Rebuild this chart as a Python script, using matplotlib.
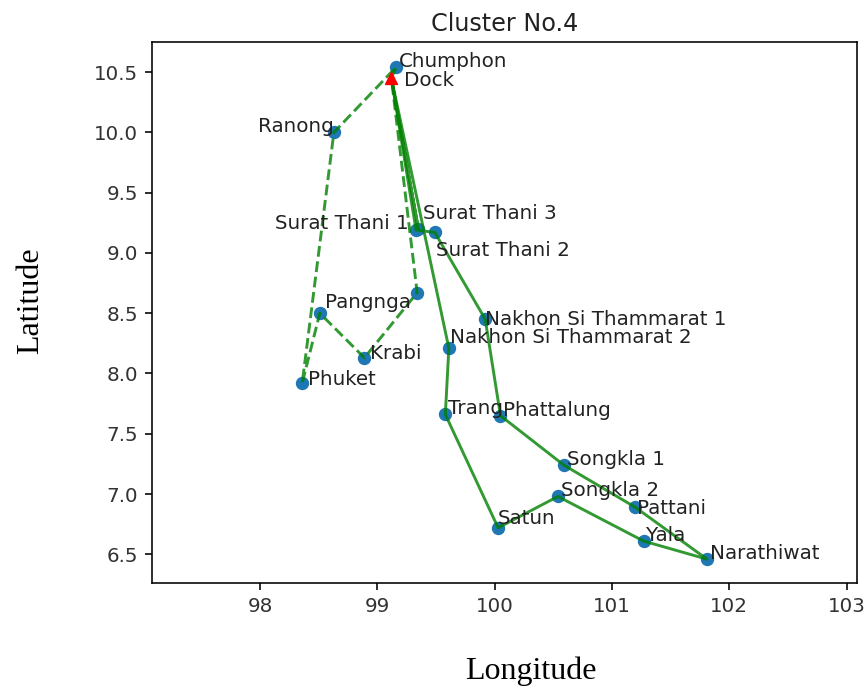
import matplotlib
matplotlib.use("Agg")
import matplotlib.pyplot as plt

# station coordinates (longitude, latitude)
names = ["Chumphon", "Dock", "Ranong", "Surat Thani 1", "Surat Thani 3", "Surat Thani 2",
         "", "Pangnga", "Krabi", "Phuket", "Nakhon Si Thammarat 1", "Nakhon Si Thammarat 2",
         "Trang", "Phattalung", "Songkla 1", "Songkla 2", "Pattani", "Yala", "Narathiwat", "Satun"]
lons = [99.16, 99.12, 98.63, 99.33, 99.35, 99.49,
        99.34, 98.51, 98.89, 98.36, 99.92, 99.61,
        99.58, 100.05, 100.59, 100.54, 101.20, 101.27, 101.81, 100.03]
lats = [10.54, 10.45, 10.00, 9.19, 9.20, 9.17,
        8.67, 8.50, 8.13, 7.92, 8.45, 8.21,
        7.66, 7.65, 7.24, 6.98, 6.89, 6.61, 6.46, 6.72]

# vehicle routes, as station names
route_dashed = ["Dock", "Chumphon", "Ranong", "Phuket", "Pangnga", "Krabi", "", "Dock"]
route_solid_1 = ["Dock", "Surat Thani 1", "Surat Thani 2", "Nakhon Si Thammarat 1", "Phattalung",
                 "Songkla 1", "Pattani", "Narathiwat", "Yala", "Songkla 2", "Satun", "Trang",
                 "Nakhon Si Thammarat 2", "Dock"]
route_solid_2 = ["Dock", "Surat Thani 3", "Dock"]

# label offsets in points (dx, dy, ha)
label_pos = {
    "Dock": (9, -6, "left"),
    "Ranong": (0, 0, "right"),
    "Surat Thani 1": (-5, 1, "right"),
    "Surat Thani 3": (3, 7, "left"),
    "Surat Thani 2": (1, -17, "left"),
    "Pangnga": (4, 4, "left"),
    "Krabi": (4, -1, "left"),
    "Phuket": (4, -1, "left"),
    "Nakhon Si Thammarat 1": (0, -4, "left"),
    "Nakhon Si Thammarat 2": (1, 4, "left"),
    "Pattani": (1, -5, "left"),
    "Satun": (0, 3, "left"),
}

idx = {n: i for i, n in enumerate(names)}


def route_xy(route):
    return [lons[idx[n]] for n in route], [lats[idx[n]] for n in route]


fig = plt.figure(figsize=(8.64, 6.87), dpi=100)
ax = fig.add_axes([0.176, 0.151, 0.816, 0.788])

stations = [i for i, n in enumerate(names) if n != "Dock"]
ax.scatter([lons[i] for i in stations], [lats[i] for i in stations], s=74, color="C0")
d = idx["Dock"]
ax.scatter([lons[d]], [lats[d]], marker="^", s=74, color="red", zorder=3)

for r, ls in [(route_dashed, "--"), (route_solid_1, "-"), (route_solid_2, "-")]:
    x, y = route_xy(r)
    ax.plot(x, y, ls, color="green", alpha=0.8, lw=2.1)

for i, n in enumerate(names):
    if not n:
        continue
    dx, dy, ha = label_pos.get(n, (2, 0, "left"))
    ax.annotate(n, (lons[i], lats[i]), xytext=(dx, dy), textcoords="offset points",
                ha=ha, va="baseline", fontsize=14.3, color="#222222")

ax.set_xlim(97.08, 103.09)
ax.set_ylim(6.26, 10.75)
ax.set_xticks([98, 99, 100, 101, 102, 103])
ax.set_yticks([6.5, 7.0, 7.5, 8.0, 8.5, 9.0, 9.5, 10.0, 10.5])
ax.tick_params(labelsize=14.3, length=5, width=1.15, pad=5, labelcolor="#333333")
for s in ax.spines.values():
    s.set_linewidth(1.15)
ax.set_title("Cluster No.4", fontsize=17.2, pad=8, color="#222222")

fig.text(0.035, 0.563, "Latitude", rotation=90, ha="center", va="center",
         family="Liberation Serif", fontsize=23)
fig.text(0.615, 0.023, "Longitude", ha="center", va="center",
         family="Liberation Serif", fontsize=23)

fig.savefig("out.png", dpi=100)
